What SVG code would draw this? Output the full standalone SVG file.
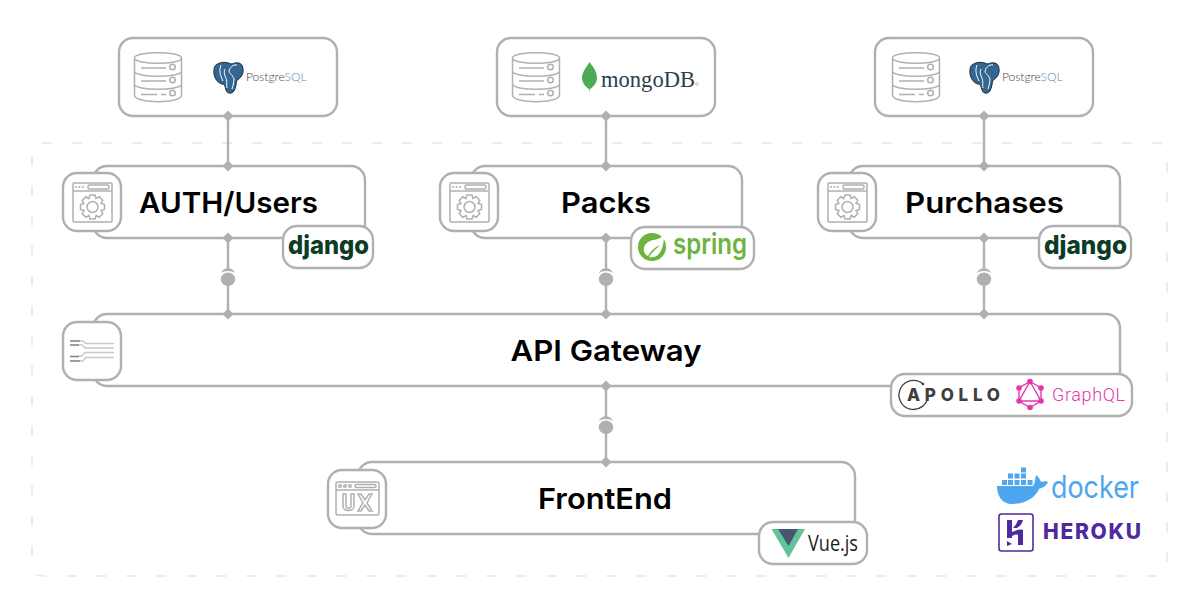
<svg xmlns="http://www.w3.org/2000/svg" width="1200" height="600" viewBox="0 0 1200 600">
<style>
.box{fill:#fff;stroke:#b0b0b0;stroke-width:2.4}
.ln{fill:none;stroke:#b0b0b0;stroke-width:2.4}
.ic{fill:none;stroke:#b0b0b0;stroke-width:1.5}
.icf{fill:#b0b0b0}
.t{font-family:Inter,"Noto Sans","Liberation Sans",sans-serif;font-weight:600;font-size:29px;fill:#000;text-anchor:middle}
.dj{font-family:Inter,"Liberation Sans",sans-serif;font-weight:800;font-size:26px;fill:#0c3c26}
.pg{font-family:Lato,"Liberation Sans",sans-serif;font-weight:300;font-size:12px}
.d{fill:#b0b0b0}
</style>
<defs>
<symbol id="db" viewBox="0 0 48 50" width="48" height="50" overflow="visible">
<path class="ic" d="M0.500 6C0.500 -1 47.500 -1 47.500 6V43C47.500 52 0.500 52 0.500 43Z M0.500 6C0.500 13 47.500 13 47.500 6 M0.500 19C0.500 26 47.500 26 47.500 19 M0.500 32C0.500 39 47.500 39 47.500 32"/>
<path class="ic" d="M7 16H32 M7 29H32 M7 42.500H23 M27 42.500H32"/>
<circle class="ic" cx="38.500" cy="15" r="2.800"/><circle class="ic" cx="38.500" cy="28" r="2.800"/><circle class="ic" cx="38.500" cy="41" r="2.800"/>
</symbol>
<symbol id="gear" viewBox="0 0 40 40" width="40" height="40" overflow="visible">
<rect class="ic" x="0.500" y="0.500" width="39" height="39" rx="1"/>
<path class="ic" d="M0.500 8.500H39.500"/>
<circle class="icf" cx="3.500" cy="4.500" r="1"/><circle class="icf" cx="7" cy="4.500" r="1"/><circle class="icf" cx="10.500" cy="4.500" r="1"/>
<rect class="ic" x="15.500" y="2.500" width="21" height="4" rx="1.500"/>
<g transform="translate(20 24.500)">
<polygon class="ic" points="-2.500,-12 2.500,-12 3.400,-8.600 6.720,-10.250 10.250,-6.720 8.480,-3.680 12,-2.500 12,2.500 8.600,3.400 10.250,6.720 6.720,10.250 3.680,8.480 2.500,12 -2.500,12 -3.400,8.600 -6.720,10.250 -10.250,6.720 -8.480,3.680 -12,2.500 -12,-2.500 -8.600,-3.400 -10.250,-6.720 -6.720,-10.250 -3.680,-8.480"/>
<circle class="ic" r="5.500"/>
</g>
</symbol>
<symbol id="lolli" viewBox="0 0 16 22" width="16" height="22" overflow="visible">
<path d="M0.800 7.500C3 0.500 13 0.500 15.200 7.500C12 4.300 4 4.300 0.800 7.500Z" fill="#b0b0b0"/>
<ellipse cx="8" cy="13.300" rx="7.200" ry="6.800" fill="#b0b0b0"/>
</symbol>
</defs>

<rect x="32" y="143" width="1135" height="433" rx="10" fill="none" stroke="#e6e6e6" stroke-width="1.600" stroke-dasharray="10 20"/>

<g id="db-auth">
<rect class="box" x="119" y="38" width="218" height="78" rx="14"/>
<use href="#db" x="134" y="52"/>
<path fill="#336791" stroke="#1d2a3a" stroke-width="1" d="M220 63C226 61 230 64 232 64C236 62 243 62 243 69C244 74 240 79 237 80C236 83 236 87 234 91C232 94 227 94 226 90C225 87 225 84 222 84C217 83 213 76 214 70C214 66 216 64 220 63Z"/>
<path fill="none" stroke="#fff" stroke-width="1" d="M221 65C219 70 220 75 223 81M225 69C224 71 224 73 225 76C228 81 226 84 227 88M237 65C233 64 229 68 229 72C230 74 232 74 234 79C234 82 233 86 232 89"/>
<text class="pg" x="246" y="81" fill="#3f4143">Postgre<tspan fill="#5d88b2">SQL</tspan></text>
</g>
<g id="db-packs">
<rect class="box" x="497" y="38" width="218" height="78" rx="14"/>
<use href="#db" x="512" y="52"/>
<path fill="#4faa56" d="M589.500 62C594 68 597 72 597 78C597 83 593 87 590 89L589.500 92L589 89C586 87 582 83 582 78C582 72 586 68 589.500 62Z"/>
<text x="601" y="87" font-family="Liberation Serif,serif" font-size="23" fill="#2c3e4a" textLength="94" lengthAdjust="spacingAndGlyphs">mongoDB</text>
<circle cx="697" cy="84" r="1.300" fill="none" stroke="#9aa5ab" stroke-width=".6"/>
</g>
<g id="db-purchases">
<rect class="box" x="875" y="38" width="218" height="78" rx="14"/>
<use href="#db" x="892" y="52"/>
<path transform="translate(756 0)" fill="#336791" stroke="#1d2a3a" stroke-width="1" d="M220 63C226 61 230 64 232 64C236 62 243 62 243 69C244 74 240 79 237 80C236 83 236 87 234 91C232 94 227 94 226 90C225 87 225 84 222 84C217 83 213 76 214 70C214 66 216 64 220 63Z"/>
<path transform="translate(756 0)" fill="none" stroke="#fff" stroke-width="1" d="M221 65C219 70 220 75 223 81M225 69C224 71 224 73 225 76C228 81 226 84 227 88M237 65C233 64 229 68 229 72C230 74 232 74 234 79C234 82 233 86 232 89"/>
<text class="pg" x="1002" y="81" fill="#3f4143">Postgre<tspan fill="#5d88b2">SQL</tspan></text>
</g>

<g id="svc-auth">
<rect class="box" x="93" y="166" width="272" height="72" rx="14"/>
<rect class="box" x="63" y="173" width="58" height="58" rx="14"/>
<use href="#gear" x="72.500" y="182.500"/>
<text class="t" x="228.500" y="213" textLength="179" lengthAdjust="spacingAndGlyphs">AUTH/Users</text>
<rect class="box" x="283" y="226" width="90" height="42" rx="14"/>
<text class="dj" x="288" y="254" textLength="81" lengthAdjust="spacingAndGlyphs">django</text>
</g>
<g id="svc-packs">
<rect class="box" x="471" y="166" width="271" height="72" rx="14"/>
<rect class="box" x="440" y="173" width="58" height="58" rx="14"/>
<use href="#gear" x="449.500" y="182.500"/>
<text class="t" x="606" y="213" textLength="90" lengthAdjust="spacingAndGlyphs">Packs</text>
<rect class="box" x="631" y="227" width="123" height="42" rx="14"/>
<circle cx="652" cy="247" r="14" fill="#6db33f"/>
<path fill="#fff" d="M664 235C660 241 650 238 645 245C642 250 645 255 648 256C652 249 656 247 660 245C656 249 652 252 649 257C657 259 664 252 664 235Z"/>
<text x="673" y="254" font-family="Inter,Liberation Sans,sans-serif" font-weight="600" font-size="28" fill="#6db33f" textLength="74" lengthAdjust="spacingAndGlyphs">spring</text>
</g>
<g id="svc-purchases">
<rect class="box" x="849" y="166" width="271" height="72" rx="14"/>
<rect class="box" x="818" y="173" width="58" height="58" rx="14"/>
<use href="#gear" x="827.500" y="182.500"/>
<text class="t" x="984.500" y="213" textLength="159" lengthAdjust="spacingAndGlyphs">Purchases</text>
<rect class="box" x="1039" y="226" width="92" height="42" rx="14"/>
<text class="dj" x="1044" y="254" textLength="83" lengthAdjust="spacingAndGlyphs">django</text>
</g>

<g id="api-gateway">
<rect class="box" x="93" y="314" width="1027" height="72" rx="14"/>
<rect class="box" x="63" y="322" width="58" height="58" rx="14"/>
<g fill="none" stroke-width="1.400">
<path stroke="#c8c8c8" d="M80 341H83L86 343.500H114 M79 345H82L85 348H114 M79 356H82L85 352.500H114 M80 361H83L86 357.500H114"/>
<path stroke="#808080" d="M70 341H80 M70 345H79 M70 356.500H79 M70 361H80"/>
</g>
<text class="t" x="606" y="361" textLength="191" lengthAdjust="spacingAndGlyphs">API Gateway</text>
<rect class="box" x="891" y="374" width="241" height="42" rx="14"/>
<path fill="none" stroke="#3f3f3f" stroke-width="1.300" d="M923 384A14.500 14.500 0 1 0 928 395"/>
<circle cx="923" cy="384" r="1.300" fill="#3f3f3f"/>
<text x="907" y="401" font-family="Inter,Liberation Sans,sans-serif" font-weight="800" font-size="17" fill="#3f3f3f" textLength="93">APOLLO</text>
<g fill="none" stroke="#e535ab" stroke-width="1.400">
<polygon points="1030,381.500 1041,388 1041,401 1030,407.500 1019,401 1019,388"/>
<polygon points="1030,381.500 1041,401 1019,401"/>
</g>
<g fill="#e535ab">
<circle cx="1030" cy="381.500" r="2.800"/><circle cx="1041" cy="388" r="2.800"/><circle cx="1041" cy="401" r="2.800"/><circle cx="1030" cy="407.500" r="2.800"/><circle cx="1019" cy="401" r="2.800"/><circle cx="1019" cy="388" r="2.800"/>
</g>
<text x="1052" y="401" font-family="Roboto,Liberation Sans,sans-serif" font-weight="300" font-size="18" fill="#e535ab" textLength="73">GraphQL</text>
</g>

<g id="frontend">
<rect class="box" x="358" y="462" width="497" height="72" rx="14"/>
<rect class="box" x="328" y="470" width="58" height="58" rx="14"/>
<rect class="ic" x="336" y="482" width="43" height="33" rx="2"/>
<path class="ic" d="M336 490H379"/>
<circle class="ic" cx="340" cy="486" r="1.300"/><circle class="ic" cx="345" cy="486" r="1.300"/><circle class="ic" cx="350" cy="486" r="1.300"/>
<rect class="ic" x="355" y="484.500" width="21" height="3" rx="1.500"/>
<path class="ic" d="M343 494V506C343 512 354 512 354 506V494H351V506C351 509 346 509 346 506V494Z M358 494H361L365 500L369 494H372L367 503L372 511H369L365 505L361 511H358L363 503Z"/>
<text class="t" x="605" y="509" textLength="134" lengthAdjust="spacingAndGlyphs">FrontEnd</text>
<rect class="box" x="759" y="522" width="108" height="42" rx="14"/>
<polygon points="771.500,529 805,529 788.500,558" fill="#62c29a"/>
<polygon points="778,529 798,529 788.500,546" fill="#45566e"/>
<text x="808" y="551" font-family="Open Sans,Liberation Sans,sans-serif" font-size="21.500" fill="#1e1e1e" textLength="50" lengthAdjust="spacingAndGlyphs">Vue.js</text>
</g>

<g id="docker">
<g fill="#4da6ee">
<rect x="1021" y="467.500" width="5" height="5"/>
<rect x="1008" y="473.500" width="5" height="5"/><rect x="1014.500" y="473.500" width="5" height="5"/><rect x="1021" y="473.500" width="5" height="5"/>
<rect x="1002" y="480" width="5" height="5"/><rect x="1008" y="480" width="5" height="5"/><rect x="1014.500" y="480" width="5" height="5"/><rect x="1021" y="480" width="5" height="5"/><rect x="1027.500" y="480" width="5" height="5"/>
<path d="M997 486H1033C1035 484 1035 479 1036 475C1039 477 1040 480 1041 482C1044 481 1047 481 1048 482C1046 487 1041 488 1039 489C1035 498 1025 504 1012 504C1002 504 997 496 997 486Z"/>
</g>
<text x="1051" y="498" font-family="Inter,Liberation Sans,sans-serif" font-weight="400" font-size="31" fill="#4da6ee" textLength="88" lengthAdjust="spacingAndGlyphs">docker</text>
</g>
<g id="heroku">
<rect x="999" y="514" width="34" height="37" rx="2.500" fill="none" stroke="#4f2a9f" stroke-width="1.600"/>
<path fill="#4f2a9f" d="M1007 520H1012V532C1017 530 1020 529 1023 530V545H1018V535C1016 534 1014 535 1012 536V538H1007Z M1018 520H1023C1022 524 1020 526 1017 528H1013C1015 526 1017 523 1018 520Z M1007 541L1012 544L1007 546Z"/>
<text x="1043" y="539" font-family="Inter,Liberation Sans,sans-serif" font-weight="800" font-size="21" fill="#4f2a9f" textLength="98">HEROKU</text>
</g>

<g id="connectors">
<path class="ln" d="M228 116V166M606 116V166M984 116V166"/>
<path class="ln" d="M228 238V270M228 285V314M606 238V270M606 285V314M984 238V270M984 285V314M606 386V418M606 433V462"/>
<use href="#lolli" x="220" y="266"/><use href="#lolli" x="598" y="266"/><use href="#lolli" x="976" y="266"/><use href="#lolli" x="598" y="414"/>
<g class="d">
<path d="M228 110.500L233.500 116L228 121.500L222.500 116Z"/>
<path d="M228 160.500L233.500 166L228 171.500L222.500 166Z"/>
<path d="M228 232.500L233.500 238L228 243.500L222.500 238Z"/>
<path d="M228 308.500L233.500 314L228 319.500L222.500 314Z"/>
<path d="M606 110.500L611.500 116L606 121.500L600.500 116Z"/>
<path d="M606 160.500L611.500 166L606 171.500L600.500 166Z"/>
<path d="M606 232.500L611.500 238L606 243.500L600.500 238Z"/>
<path d="M606 308.500L611.500 314L606 319.500L600.500 314Z"/>
<path d="M984 110.500L989.500 116L984 121.500L978.500 116Z"/>
<path d="M984 160.500L989.500 166L984 171.500L978.500 166Z"/>
<path d="M984 232.500L989.500 238L984 243.500L978.500 238Z"/>
<path d="M984 308.500L989.500 314L984 319.500L978.500 314Z"/>
<path d="M606 380.500L611.500 386L606 391.500L600.500 386Z"/>
<path d="M606 456.500L611.500 462L606 467.500L600.500 462Z"/>
</g>
</g>
</svg>
